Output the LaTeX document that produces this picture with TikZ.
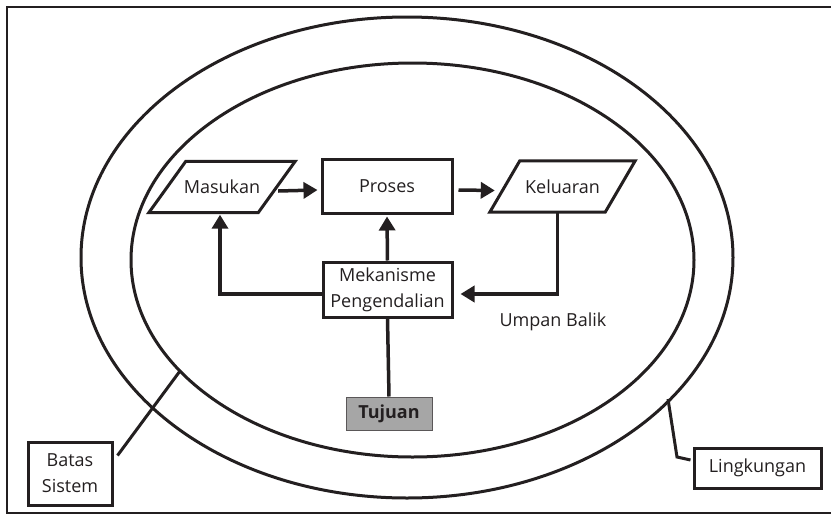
\documentclass[tikz,border=0pt]{standalone}
\usepackage{fontspec}
\setmainfont{Open Sans}
\usetikzlibrary{arrows.meta,shapes.geometric,calc}

\definecolor{ink}{HTML}{231F20}
\definecolor{goalgray}{HTML}{A6A6A6}

\tikzset{
  every node/.style={text=ink, font=\fontsize{18}{26}\selectfont},
  boxline/.style={draw=ink, line width=3pt},
  textbox/.style={boxline, inner sep=0pt, align=center},
  slotnode/.style={inner sep=0pt},
  conn/.style={draw=ink, line width=3.5pt, -{Triangle[length=14pt,width=16pt]}},
  plainconn/.style={draw=ink, line width=3.5pt},
  leader/.style={draw=ink, line width=3pt},
  ring/.style={draw=ink, line width=3pt, ellipse, inner sep=0pt},
}

\begin{document}
\begin{tikzpicture}[x=1pt, y=-1pt]
  \useasboundingbox (0,0) rectangle (831,520);
  \clip (0,0) rectangle (831,520);

  % outer frame (runs past the right edge)
  \draw[draw=ink, line width=2.5pt] (7,7) rectangle (845,513);

  % environment boundary and system boundary
  \node[ring, minimum width=652pt, minimum height=481pt] (outer) at (407,257.5) {};
  \node[ring, minimum width=563pt, minimum height=394pt] (inner) at (412.5,260) {};

  % input / process / output
  \node[slotnode, minimum width=146pt, minimum height=51pt] (masukan) at (222,187) {Masukan};
  \draw[boxline] (masukan.south west) -- ($(masukan.north west)+(37,0)$)
                 -- (masukan.north east) -- ($(masukan.south east)+(-37,0)$) -- cycle;

  \node[textbox, minimum width=130pt, minimum height=54pt] (proses) at (387,186) {Proses};

  \node[slotnode, minimum width=145pt, minimum height=51pt] (keluaran) at (562.5,186.5) {Keluaran};
  \draw[boxline] (keluaran.south west) -- ($(keluaran.north west)+(30,0)$)
                 -- (keluaran.north east) -- ($(keluaran.south east)+(-30,0)$) -- cycle;

  % control mechanism and goal
  \node[textbox, minimum width=129pt, minimum height=55pt] (mekanisme) at (387.5,289.5)
       {Mekanisme\\Pengendalian};
  \node[draw=ink!75, line width=1pt, fill=goalgray, inner sep=0pt,
        minimum width=86pt, minimum height=33pt, font=\fontsize{18}{26}\selectfont\bfseries]
       (tujuan) at (389,413.5) {Tujuan};

  \node (umpan) at (553,322) {Umpan Balik};

  % labels
  \node[textbox, minimum width=84pt, minimum height=63pt] (batas) at (70,473.5) {Batas\\Sistem};
  \node[textbox, minimum width=127pt, minimum height=40pt] (lingk) at (757.5,468) {Lingkungan};

  % flow connectors
  \draw[conn] ($(masukan.east)+(-17,4)$) -- ($(proses.west)+(-3,4)$);
  \draw[conn] ($(proses.east)+(5,4)$) -- ($(keluaran.west)+(5,4)$);
  \draw[conn] ($(keluaran.south)+(-5,0)$) |- ($(mekanisme.east)+(7,4.5)$);
  \draw[conn] ($(mekanisme.west)+(0,4.5)$) -| ($(masukan.south)+(-2,2)$);
  \draw[conn] (mekanisme.north) -- ($(proses.south)+(0,2)$);
  \draw[plainconn] (tujuan.north) -- (mekanisme.south);

  % leader lines
  \coordinate (bsend) at (180,371);
  \draw[leader] ($(batas.east)+(4,-18)$) -- (bsend);
  \coordinate (lkend) at (668,399);
  \draw[leader] ($(lingk.west)+(-2,-8)$) -- (677,457) -- (lkend);
\end{tikzpicture}
\end{document}
